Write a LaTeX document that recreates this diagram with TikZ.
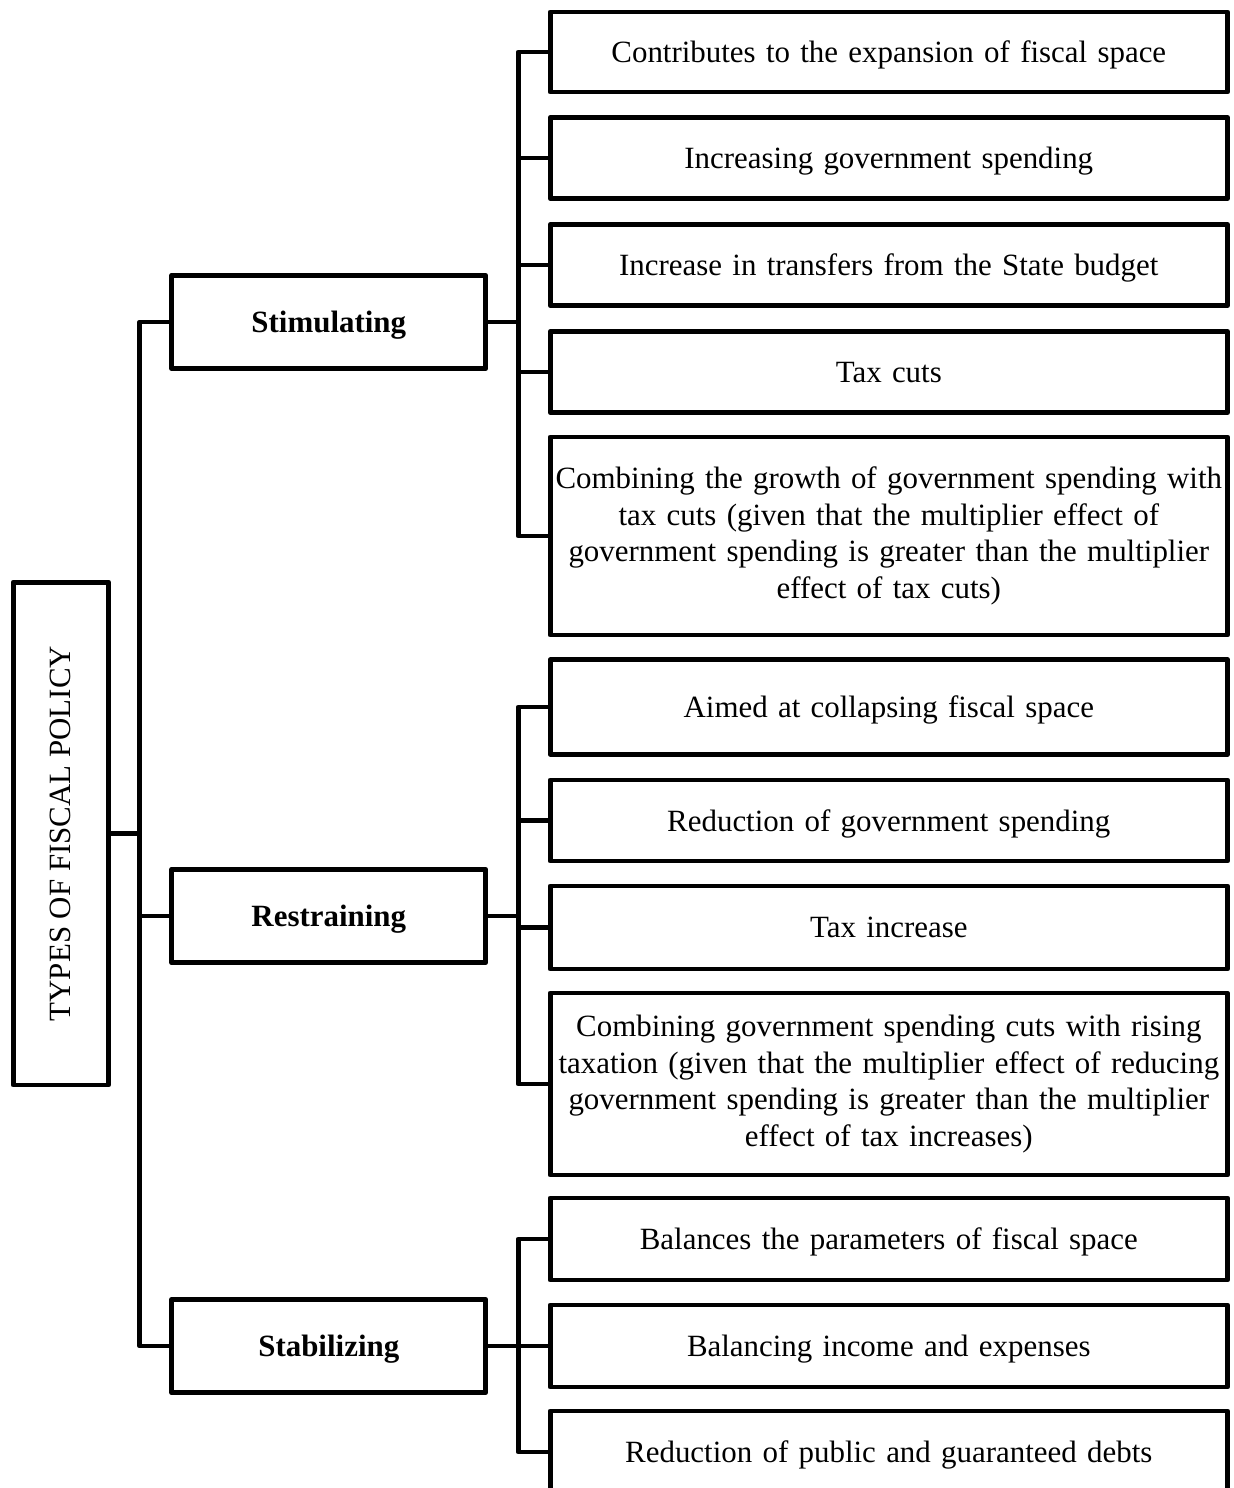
\documentclass[tikz,border=0pt]{standalone}
\usepackage{fontspec}
\setmainfont{Liberation Serif}
\usepackage{graphicx}
\usetikzlibrary{positioning}

\begin{document}
\begin{tikzpicture}[x=0.02cm,y=-0.02cm,line width=2.8pt,line join=round,
    font=\fontsize{17.6}{20.8}\selectfont,
    box/.style={draw,align=center,inner sep=0pt},
    kind/.style={box,text depth=0pt,minimum width=6.28cm,minimum height=1.87cm,font=\fontsize{17.6}{20.8}\selectfont\bfseries},
    wide/.style={box,text width=13.55cm,minimum height=#1},
    leaf/.style={wide=#1,text depth=0pt},
    leaf/.default=1.62cm]
  \useasboundingbox (0,0) rectangle (1234,1488);
  \clip (0,0) rectangle (1234,1488);

  \node[box,minimum width=1.91cm,minimum height=10.06cm] (root) at (60.8,833.5)
    {\rotatebox{90}{TYPES OF FISCAL POLICY}};
  \coordinate (trunk) at (139.8,0);
  \coordinate (brk) at (518.5,0);

  \node[kind] (stim) at (328.8,322) {Stimulating};
  \node[kind] (restr) at (328.8,916) {Restraining};
  \node[kind] (stab) at (328.8,1346) {Stabilizing};

  \node[leaf=1.6cm] (s1) at (888.8,52) {Contributes to the expansion of fiscal space};
  \node[leaf] (s2) at (888.8,158) {Increasing government spending};
  \node[leaf] (s3) at (888.8,265) {Increase in transfers from the State budget};
  \node[leaf] (s4) at (888.8,372) {Tax cuts};
  \node[wide=3.96cm] (s5) at (888.8,536) {Combining the growth of government spending with\\
    tax cuts (given that the multiplier effect of\\
    government spending is greater than the multiplier\\
    effect of tax cuts)};

  \node[leaf=1.89cm] (r1) at (888.8,707) {Aimed at collapsing fiscal space};
  \node[leaf] (r2) at (888.8,820.5) {Reduction of government spending};
  \node[leaf=1.66cm] (r3) at (888.8,927.5) {Tax increase};
  \node[wide=3.64cm] (r4) at (888.8,1084) {Combining government spending cuts with rising\\
    taxation (given that the multiplier effect of reducing\\
    government spending is greater than the multiplier\\
    effect of tax increases)};

  \node[leaf=1.64cm] (b1) at (888.8,1239) {Balances the parameters of fiscal space};
  \node[leaf=1.64cm] (b2) at (888.8,1346) {Balancing income and expenses};
  \node[leaf=1.64cm] (b3) at (888.8,1452) {Reduction of public and guaranteed debts};

  % trunk
  \draw (root.east) -- (root.east -| trunk);
  \draw (stim.west) -- (stim.west -| trunk) -- (stab.west -| trunk) -- (stab.west);
  \draw (restr.west) -- (restr.west -| trunk);

  % brackets
  \draw (stim.east) -- (stim.east -| brk);
  \draw (s1.west) -- (s1.west -| brk) -- (s5.west -| brk) -- (s5.west);
  \foreach \n in {s2,s3,s4} \draw (\n.west) -- (\n.west -| brk);

  \draw (restr.east) -- (restr.east -| brk);
  \draw (r1.west) -- (r1.west -| brk) -- (r4.west -| brk) -- (r4.west);
  \foreach \n in {r2,r3} \draw (\n.west) -- (\n.west -| brk);

  \draw (stab.east) -- (b2.west);
  \draw (b1.west) -- (b1.west -| brk) -- (b3.west -| brk) -- (b3.west);
\end{tikzpicture}
\end{document}
